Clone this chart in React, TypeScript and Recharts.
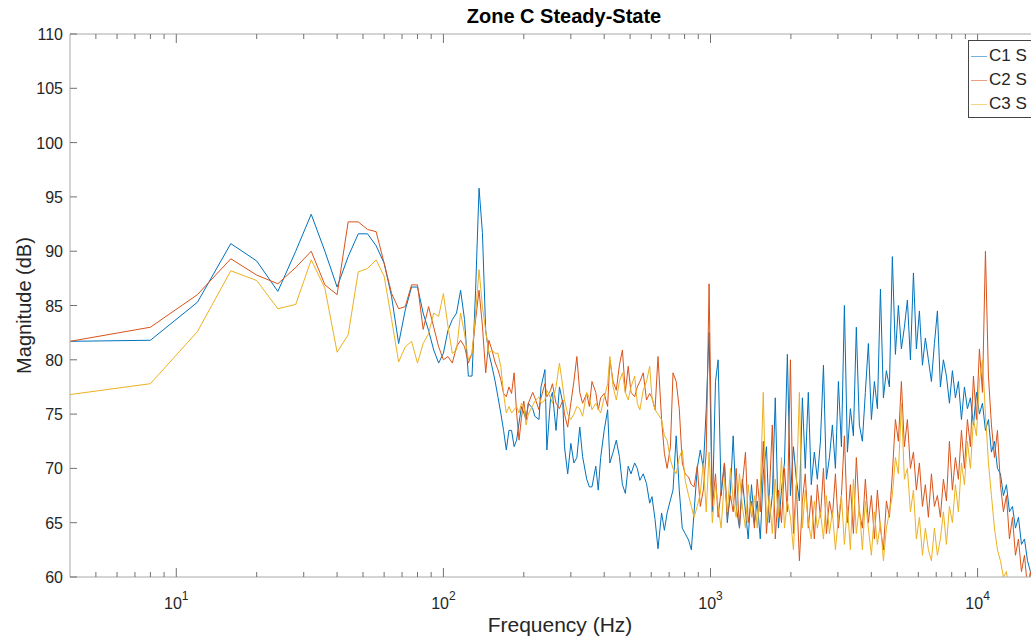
import React from 'react';
import { LineChart, Line, XAxis, YAxis } from 'recharts';

// frequency grid (Hz): 4 Hz steps up to 200 Hz, then sampled every ~3 px of the log axis
const freqLow = [
  4, 8, 12, 16, 20, 24, 28, 32, 36, 40, 44, 48, 52, 56, 60, 64, 68, 72, 76, 80,
  84, 88, 92, 96, 100, 104, 108, 112, 116, 120, 124, 128, 132, 136, 140, 144, 148, 152, 156, 160,
  164, 168, 172, 176, 180, 184, 188, 192, 196, 200,
];
const freqMid = [
  204, 208, 216, 220, 228, 232, 240, 244, 252, 256, 264, 272, 280, 284, 292, 300, 308, 316, 324, 332,
  344, 352, 360, 372, 380, 388, 400, 412, 420, 432, 444, 456, 468, 480, 492, 504, 520, 532, 544, 560,
  576, 592, 604, 620, 636, 656, 672, 688, 708, 724, 744, 764, 784, 804, 828, 848, 868, 892, 916,
];
const freqHigh = [
  940, 964, 988, 1016, 1044, 1068, 1096, 1128, 1156, 1188, 1216, 1248, 1284, 1316, 1352, 1384, 1424, 1460, 1496, 1536,
  1576, 1620, 1660, 1704, 1748, 1796, 1844, 1892, 1940, 1992, 2044, 2096, 2152, 2208, 2264, 2324, 2384, 2448, 2512, 2580,
  2648, 2716, 2788, 2860, 2936, 3012, 3092, 3172, 3256, 3340, 3428, 3516, 3608, 3704, 3800, 3900, 4004, 4108, 4216, 4328,
  4440, 4556, 4676, 4796, 4924, 5052, 5184, 5320, 5460, 5604, 5752, 5900, 6056, 6216, 6376, 6544, 6716, 6892, 7072, 7256,
  7448, 7644, 7844, 8048, 8260, 8476, 8700, 8928, 9160, 9400, 9648, 9900, 10160, 10428, 10700, 10980, 11268, 11564, 11868, 12176,
  12496, 12824, 13160, 13508, 13860, 14224, 14596, 14980, 15372, 15772, 16188,
];

// magnitudes (dB)
const c1Low = [
  81.7, 81.8, 85.3, 90.7, 89.1, 86.3, 90.0, 93.4, 90.0, 86.7, 89.5, 91.6, 91.6, 90.5, 88.9, 85.8, 81.5, 84.6, 86.7, 86.7,
  84.3, 82.7, 80.9, 79.7, 80.6, 82.7, 83.7, 84.3, 86.4, 83.7, 78.5, 78.5, 86.4, 95.8, 91.7, 82.7, 80.6, 79.4, 78.1, 76.6,
  75.1, 73.5, 71.7, 73.5, 73.5, 72.0, 72.6, 74.2, 75.7, 75.1,
];
const c1Mid = [
  74.5, 76.0, 75.5, 74.8, 74.5, 77.5, 79.1, 71.7, 76.5, 77.0, 73.5, 77.5, 76.0, 72.0, 69.5, 72.3, 70.5, 71.0, 73.8, 71.1,
  69.0, 68.3, 68.3, 70.2, 68.0, 71.0, 73.5, 75.4, 70.5, 71.5, 72.6, 71.1, 68.5, 67.7, 70.2, 69.5, 70.5, 70.0, 68.9, 69.5,
  68.6, 66.8, 67.4, 65.3, 62.6, 65.9, 64.3, 65.9, 67.1, 68.0, 73.0, 68.0, 64.5, 64.0, 63.4, 62.5, 66.0, 70.0, 71.7,
];
const c1High = [
  70.0, 75.5, 82.5, 66.0, 78.0, 80.0, 67.5, 70.5, 65.0, 68.0, 73.0, 66.5, 64.5, 69.0, 66.0, 63.5, 68.5, 65.0, 67.0, 63.5,
  69.5, 72.0, 65.0, 67.5, 76.5, 64.5, 68.0, 70.5, 80.5, 67.5, 72.0, 69.0, 67.0, 76.5, 70.0, 77.0, 68.5, 71.5, 69.0, 72.5,
  79.5, 69.0, 71.0, 74.0, 70.0, 78.0, 72.0, 85.0, 71.5, 75.5, 73.0, 83.0, 74.0, 72.5, 77.0, 81.5, 74.5, 78.0, 75.5, 86.5,
  76.5, 79.0, 77.5, 89.5, 80.5, 85.0, 81.0, 83.0, 85.5, 80.0, 88.0, 81.0, 84.5, 79.5, 82.0, 80.0, 78.0, 81.5, 84.5, 77.5,
  80.0, 78.5, 76.0, 79.0, 76.5, 78.0, 74.5, 77.5, 75.5, 76.5, 74.0, 77.0, 75.0, 76.0, 73.5, 74.5, 71.5, 72.5, 70.0, 69.5,
  67.5, 68.5, 66.0, 66.5, 64.5, 65.5, 63.0, 63.5, 61.5, 60.5, 59.5,
];

const c2Low = [
  81.7, 83.0, 86.0, 89.3, 87.8, 87.0, 88.5, 90.0, 86.9, 86.0, 92.7, 92.7, 92.0, 91.8, 88.9, 86.1, 84.7, 84.9, 86.9, 86.9,
  82.8, 84.9, 83.0, 81.2, 80.0, 80.3, 79.7, 81.2, 81.8, 81.2, 79.7, 80.6, 83.7, 86.4, 83.1, 78.8, 81.8, 80.9, 79.8, 79.1,
  78.2, 76.9, 76.6, 77.5, 76.9, 78.8, 75.1, 72.6, 74.7, 76.2,
];
const c2Mid = [
  74.5, 76.0, 77.0, 76.5, 75.4, 76.5, 77.8, 76.6, 77.2, 77.8, 76.0, 75.5, 76.3, 75.0, 73.8, 76.0, 78.0, 80.3, 77.0, 76.0,
  76.9, 75.7, 78.0, 77.0, 75.4, 76.5, 76.9, 75.7, 80.0, 78.0, 77.2, 79.5, 80.9, 77.0, 79.4, 77.0, 76.6, 77.5, 78.0, 78.8,
  76.3, 76.9, 76.5, 75.4, 80.3, 74.5, 71.4, 70.0, 72.0, 78.8, 78.0, 75.5, 70.5, 69.5, 69.2, 68.5, 68.3, 70.2, 66.5,
];
const c2High = [
  68.0, 71.5, 87.0, 66.5, 69.5, 65.5, 68.0, 70.5, 65.5, 67.5, 66.0, 70.0, 64.5, 68.5, 71.5, 65.0, 67.0, 64.5, 69.0, 66.0,
  72.5, 64.0, 67.5, 74.0, 63.5, 68.0, 65.0, 70.0, 66.0, 80.0, 64.0, 68.5, 61.5, 67.0, 69.5, 64.5, 67.5, 63.5, 68.5, 65.5,
  70.0, 64.0, 67.0, 65.5, 69.5, 64.5, 67.5, 73.0, 65.0, 68.5, 64.0, 71.0, 66.0, 64.5, 69.0, 65.0, 67.5, 63.5, 68.0, 64.5,
  62.5, 67.0, 65.5, 69.5, 74.5, 72.5, 78.0, 72.0, 74.5, 70.0, 71.5, 68.0, 70.5, 66.5, 68.5, 65.5, 69.5, 66.5, 67.5, 65.5,
  69.0, 67.0, 72.5, 68.0, 71.0, 69.0, 73.5, 70.0, 74.5, 72.0, 78.5, 74.5, 81.0, 77.0, 90.0, 78.5, 74.0, 71.0, 73.5, 68.5,
  66.0, 67.5, 63.5, 65.5, 62.0, 63.5, 60.5, 62.0, 59.0, 60.5, 58.0,
];

const c3Low = [
  76.8, 77.8, 82.6, 88.2, 87.3, 84.7, 85.1, 89.2, 86.6, 80.7, 82.3, 88.1, 88.4, 89.2, 87.7, 83.7, 79.8, 81.2, 81.7, 79.7,
  81.5, 82.4, 84.3, 84.0, 86.1, 83.1, 80.6, 80.9, 84.3, 82.4, 80.0, 80.6, 84.3, 88.3, 84.9, 82.7, 80.6, 80.9, 80.6, 80.6,
  79.4, 76.9, 75.1, 75.7, 75.1, 75.4, 75.7, 75.1, 76.0, 75.7,
];
const c3Mid = [
  74.0, 75.0, 75.8, 76.2, 76.6, 76.0, 76.3, 77.2, 76.5, 76.0, 77.5, 79.7, 77.5, 76.3, 75.0, 74.5, 75.0, 75.7, 75.5, 74.8,
  77.0, 76.5, 75.4, 76.0, 75.5, 75.1, 76.5, 77.8, 80.3, 77.5, 76.3, 78.0, 78.8, 77.0, 76.3, 77.5, 78.5, 76.0, 75.4, 77.2,
  78.0, 79.4, 76.5, 75.4, 75.0, 74.5, 73.0, 72.6, 70.8, 70.0, 69.5, 71.0, 71.7, 68.9, 67.5, 66.5, 65.5, 66.5, 67.7,
];
const c3High = [
  70.5, 66.0, 71.5, 65.0, 68.5, 66.5, 64.5, 69.0, 66.0, 70.0, 67.0, 65.5, 69.5, 66.5, 64.5, 68.5, 65.5, 67.5, 64.5, 68.0,
  77.0, 65.0, 67.5, 64.0, 69.0, 65.5, 71.0, 64.5, 67.0, 65.5, 62.5, 68.0, 77.0, 64.5, 68.0, 65.0, 63.5, 67.0, 64.5, 66.0,
  63.5, 67.5, 64.0, 66.0, 62.5, 65.5, 67.5, 63.0, 66.5, 62.5, 69.0, 64.0, 66.5, 62.5, 67.0, 64.5, 62.0, 66.0, 63.0, 65.0,
  61.5, 64.5, 66.0, 67.5, 71.0, 69.5, 76.0, 69.0, 70.0, 66.0, 68.0, 63.5, 65.5, 62.0, 64.5, 62.5, 61.5, 64.5, 62.0, 63.5,
  66.0, 63.0, 66.5, 65.0, 68.5, 66.0, 70.5, 68.5, 72.5, 70.0, 74.5, 73.0, 78.0, 80.0, 75.0, 70.5, 67.5, 64.5, 62.5, 61.5,
  60.0, 60.5, 58.0, 57.0, 57.5, 55.0, 56.0, 54.0, 55.0, 53.0, 54.0,
];

const seriesNames = ['C1 S', 'C2 S', 'C3 S'];
const seriesColors = ['#0072BD', '#D95319', '#EDB120'];

const majorTicks = [10, 100, 1000, 10000];
const minorTicks = [
  5, 6, 7, 8, 9, 20, 30, 40, 50, 60, 70, 80, 90, 200, 300, 400, 500, 600, 700, 800, 900,
  2000, 3000, 4000, 5000, 6000, 7000, 8000, 9000,
];
const xTicks = [...minorTicks, ...majorTicks].sort((a, b) => a - b);
const yTicks = [60, 65, 70, 75, 80, 85, 90, 95, 100, 105, 110];

const FONT = '"Liberation Sans", Arial, Helvetica, sans-serif';
const INK = '#262626';
const AXIS = '#a8a8a8';
const TICK = '#707070';

const CHART_W = 1090;
const CHART_H = 644;
const LEFT = 70;
const TOP = 34;
const BOTTOM = 577;
const RIGHT = 1058;
const X_AXIS_H = 30;
const TOP_AXIS_H = 20;
const Y_AXIS_W = 60;

const freqs = [...freqLow, ...freqMid, ...freqHigh];
const c1 = [...c1Low, ...c1Mid, ...c1High];
const c2 = [...c2Low, ...c2Mid, ...c2High];
const c3 = [...c3Low, ...c3Mid, ...c3High];
const data = freqs.map((f, i) => ({ f, c1: c1[i], c2: c2[i], c3: c3[i] }));

const BottomTick = (props: any) => {
  const { x, payload } = props;
  const major = majorTicks.includes(payload.value);
  return (
    <g>
      <line x1={x} x2={x} y1={BOTTOM} y2={BOTTOM - (major ? 9 : 5)} stroke={TICK} />
      {major && (
        <text x={x} y={609} textAnchor="middle" fontFamily={FONT} fontSize={16} fill={INK}>
          10
          <tspan dy={-9} fontSize={12}>
            {Math.round(Math.log10(payload.value))}
          </tspan>
        </text>
      )}
    </g>
  );
};

const TopTick = (props: any) => {
  const { x, payload } = props;
  const major = majorTicks.includes(payload.value);
  return <line x1={x} x2={x} y1={TOP} y2={TOP + (major ? 9 : 5)} stroke={TICK} />;
};

const LeftTick = (props: any) => {
  const { y, payload } = props;
  return (
    <g>
      <line x1={LEFT} x2={LEFT + 7} y1={y} y2={y} stroke={TICK} />
      <text x={63} y={y + 6} textAnchor="end" fontFamily={FONT} fontSize={16} fill={INK}>
        {payload.value}
      </text>
    </g>
  );
};

const LegendBox = () => (
  <div
    style={{
      position: 'absolute',
      left: 968,
      top: 40,
      width: 110,
      height: 76,
      border: '1px solid #444',
      background: '#fff',
      fontFamily: FONT,
      fontSize: 17,
      color: INK,
    }}
  >
    {seriesNames.map((name, i) => (
      <div key={name} style={{ position: 'absolute', left: 0, top: 4 + i * 24, height: 22, display: 'flex', alignItems: 'center' }}>
        <div style={{ width: 16, marginLeft: 2, borderTop: `1px solid ${seriesColors[i]}`, opacity: 0.55 }} />
        <span style={{ marginLeft: 2, whiteSpace: 'nowrap' }}>{name}</span>
      </div>
    ))}
  </div>
);

export default function App() {
  return (
    <div style={{ position: 'absolute', left: 0, top: 0, width: 1031, height: 644, overflow: 'hidden', background: '#fff' }}>
      <LineChart
        width={CHART_W}
        height={CHART_H}
        data={data}
        margin={{
          top: TOP - TOP_AXIS_H,
          right: CHART_W - RIGHT,
          bottom: CHART_H - BOTTOM - X_AXIS_H,
          left: LEFT - Y_AXIS_W,
        }}
      >
        <XAxis
          xAxisId="b"
          dataKey="f"
          type="number"
          scale="log"
          domain={[4, 20000]}
          allowDataOverflow
          ticks={xTicks}
          interval={0}
          height={X_AXIS_H}
          tickLine={false}
          axisLine={{ stroke: AXIS }}
          tick={(p: any) => <BottomTick {...p} />}
        />
        <XAxis
          xAxisId="t"
          orientation="top"
          dataKey="f"
          type="number"
          scale="log"
          domain={[4, 20000]}
          allowDataOverflow
          ticks={xTicks}
          interval={0}
          height={TOP_AXIS_H}
          tickLine={false}
          axisLine={{ stroke: AXIS }}
          tick={(p: any) => <TopTick {...p} />}
        />
        <YAxis
          yAxisId="m"
          type="number"
          domain={[60, 110]}
          allowDataOverflow
          ticks={yTicks}
          interval={0}
          width={Y_AXIS_W}
          tickLine={false}
          axisLine={{ stroke: AXIS }}
          tick={(p: any) => <LeftTick {...p} />}
        />
        {['c1', 'c2', 'c3'].map((key, i) => (
          <Line
            key={key}
            xAxisId="b"
            yAxisId="m"
            type="linear"
            dataKey={key}
            name={seriesNames[i]}
            stroke={seriesColors[i]}
            strokeWidth={1}
            dot={false}
            activeDot={false}
            isAnimationActive={false}
          />
        ))}
      </LineChart>

      <svg width={1031} height={644} style={{ position: 'absolute', left: 0, top: 0, pointerEvents: 'none' }}>
        <text x={(LEFT + RIGHT) / 2} y={23} textAnchor="middle" fontFamily={FONT} fontSize={20} fontWeight="bold" fill="#000">
          Zone C Steady-State
        </text>
        <text x={(LEFT + RIGHT) / 2 - 4} y={632} textAnchor="middle" fontFamily={FONT} fontSize={21} fill={INK}>
          Frequency (Hz)
        </text>
        <text
          x={0}
          y={0}
          transform={`translate(31, ${(TOP + BOTTOM) / 2}) rotate(-90)`}
          textAnchor="middle"
          fontFamily={FONT}
          fontSize={20}
          fill={INK}
        >
          Magnitude (dB)
        </text>
      </svg>

      <LegendBox />
    </div>
  );
}
